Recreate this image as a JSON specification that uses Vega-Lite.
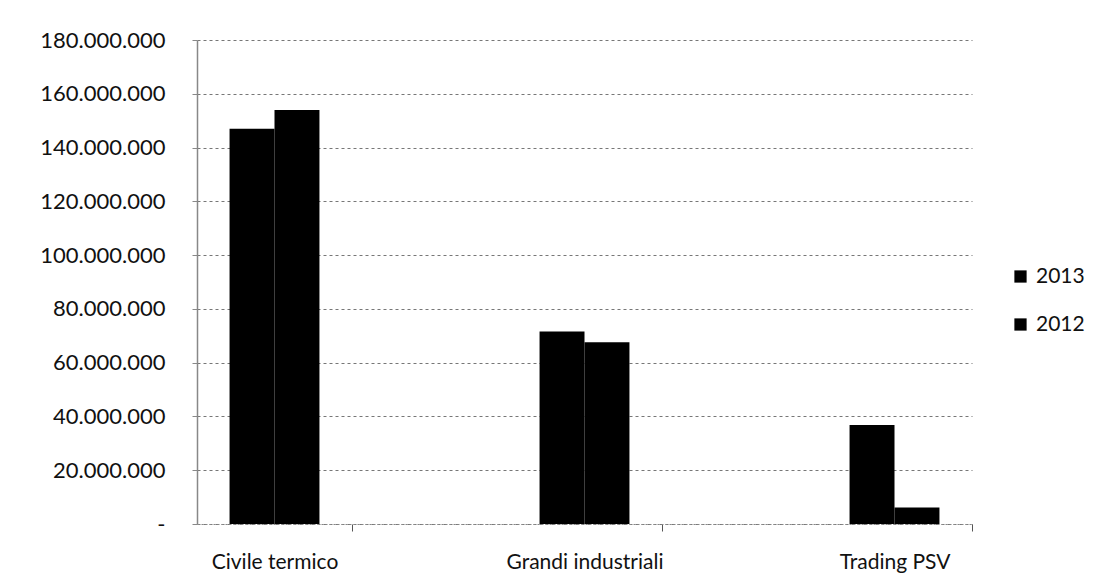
{
  "$schema": "https://vega.github.io/schema/vega-lite/v6.json",
  "autosize": {"type": "none"},
  "padding": {"left": 197, "top": 40, "right": 135, "bottom": 61},
  "width": 775,
  "height": 484,
  "background": "white",
  "data": {
    "values": [
      {"categoria": "Civile termico", "anno": "2013", "valore": 147000000},
      {"categoria": "Civile termico", "anno": "2012", "valore": 154000000},
      {"categoria": "Grandi industriali", "anno": "2013", "valore": 71600000},
      {"categoria": "Grandi industriali", "anno": "2012", "valore": 67600000},
      {"categoria": "Trading PSV", "anno": "2013", "valore": 36800000},
      {"categoria": "Trading PSV", "anno": "2012", "valore": 6100000}
    ]
  },
  "mark": {"type": "bar", "color": "black"},
  "encoding": {
    "x": {
      "field": "categoria",
      "type": "nominal",
      "sort": ["Civile termico", "Grandi industriali", "Trading PSV"],
      "scale": {"paddingInner": 0.71, "paddingOuter": 0.105},
      "axis": {
        "title": null,
        "labelAngle": 0,
        "labelFont": "Lato",
        "labelFontSize": 21,
        "labelColor": "#111",
        "labelPadding": 20,
        "tickOffset": 77,
        "labelOffset": -77,
        "tickColor": "#555",
        "tickSize": 7,
        "domainColor": "#888",
        "domainDash": [2, 2],
        "grid": false
      }
    },
    "xOffset": {
      "field": "anno",
      "type": "nominal",
      "sort": ["2013", "2012"]
    },
    "y": {
      "field": "valore",
      "type": "quantitative",
      "scale": {"domain": [0, 180000000], "nice": false},
      "axis": {
        "title": null,
        "values": [0, 20000000, 40000000, 60000000, 80000000, 100000000, 120000000, 140000000, 160000000, 180000000],
        "labelExpr": "datum.value === 0 ? '-      ' : replace(format(datum.value, ','), regexp(',', 'g'), '.')",
        "labelFont": "Lato",
        "labelFontSize": 22,
        "labelColor": "#111",
        "labelPadding": 27,
        "tickSize": 5,
        "tickColor": "#888",
        "domainColor": "#888",
        "domainWidth": 1.5,
        "grid": true,
        "gridColor": "#777",
        "gridDash": [3, 3],
        "gridWidth": 1
      }
    },
    "color": {
      "field": "anno",
      "type": "nominal",
      "sort": ["2013", "2012"],
      "scale": {"domain": ["2013", "2012"], "range": ["black", "black"]},
      "legend": {
        "title": null,
        "orient": "none",
        "legendX": 813,
        "legendY": 226,
        "symbolType": "square",
        "symbolSize": 150,
        "symbolStrokeWidth": 0,
        "labelFont": "Lato",
        "labelFontSize": 21,
        "labelColor": "#111",
        "rowPadding": 26,
        "labelOffset": 5,
        "padding": 0,
        "direction": "vertical"
      }
    }
  },
  "config": {
    "view": {"stroke": null}
  }
}
